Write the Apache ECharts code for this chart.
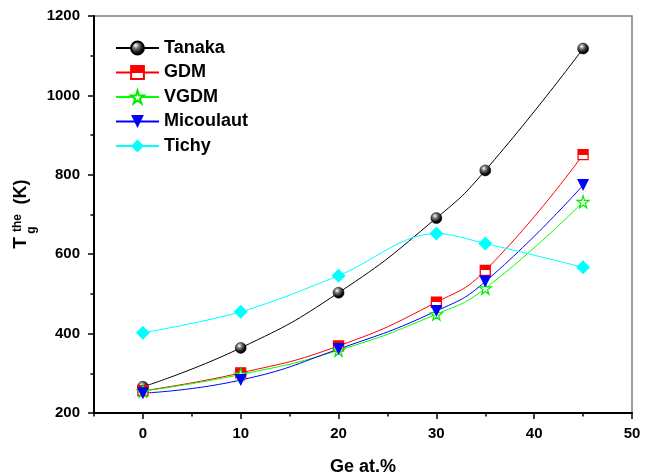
<!DOCTYPE html>
<html>
<head>
<meta charset="utf-8">
<script src="https://cdn.jsdelivr.net/npm/echarts@6/dist/echarts.min.js"></script>
<style>html,body{margin:0;padding:0;background:#fff;}#c{width:654px;height:475px;}</style>
</head>
<body>
<div id="c"></div>
<script>
const geContent = [0, 10, 20, 30, 35, 45];
const tanaka = [266, 364, 503, 691, 811, 1118];
const gdm = [256, 301, 369, 479, 559, 851];
const vgdm = [255, 297, 358, 449, 514, 732];
const micoulaut = [250, 283, 361, 457, 531, 774];
const tichy = [402, 455, 546, 652, 627, 567];

const FONT = '"Liberation Sans", Arial, sans-serif';
const chart = echarts.init(document.getElementById('c'), null, {renderer: 'canvas'});
const pairs = arr => geContent.map((x, i) => [x, arr[i]]);
const starPath = 'path://M50,0 L61,35 L98,35 L68,57 L79,91 L50,70 L21,91 L32,57 L2,35 L39,35 Z';
const L = 94, R = 22, T = 16, B = 62;
// second grid starts at x = 0 so that major ticks land on multiples of 10
const plotW = 654 - L - R;
const leftAtZero = L + plotW * 5 / 55;

const labelStyle = {fontFamily: FONT, fontWeight: 'bold', fontSize: 15, color: '#000'};

const option = {
  animation: false,
  backgroundColor: '#fff',
  grid: [
    {left: L, right: R, top: T, bottom: B, outerBoundsMode: 'none', containLabel: false,
      show: true, borderColor: '#7f7f7f', borderWidth: 1.5, backgroundColor: 'transparent'},
    {left: leftAtZero, right: R, top: T, bottom: B, outerBoundsMode: 'none', containLabel: false, show: false}
  ],
  legend: {
    orient: 'vertical',
    left: 115,
    top: 38,
    padding: 0,
    itemWidth: 43,
    itemHeight: 16,
    itemGap: 4.5,
    textStyle: {fontFamily: FONT, fontWeight: 'bold', fontSize: 18, color: '#000', lineHeight: 20},
    data: ['Tanaka', 'GDM', 'VGDM', 'Micoulaut', 'Tichy']
  },
  xAxis: [{
    type: 'value', gridIndex: 0, min: -5, max: 50, interval: 5,
    name: 'Ge at.%', nameLocation: 'middle', nameGap: 45,
    nameTextStyle: {fontFamily: FONT, fontWeight: 'bold', fontSize: 18, color: '#000'},
    axisLine: {show: true, onZero: false, lineStyle: {color: '#000', width: 2}},
    axisTick: {show: true, inside: false, length: 3.5, lineStyle: {color: '#000', width: 1.5}},
    axisLabel: {show: false},
    splitLine: {show: false}
  }, {
    type: 'value', gridIndex: 1, min: 0, max: 50, interval: 10,
    axisLine: {show: false, onZero: false},
    axisTick: {show: true, inside: false, length: 6, lineStyle: {color: '#000', width: 1.5}},
    axisLabel: Object.assign({show: true, margin: 13}, labelStyle),
    splitLine: {show: false}
  }],
  yAxis: [{
    type: 'value', gridIndex: 0, min: 200, max: 1200, interval: 200,
    axisLine: {show: true, onZero: false, lineStyle: {color: '#000', width: 2}},
    axisTick: {show: true, inside: false, length: 6, lineStyle: {color: '#000', width: 1.5}},
    minorTick: {show: true, splitNumber: 2, length: 3.5, lineStyle: {color: '#000', width: 1.5}},
    axisLabel: Object.assign({show: true, margin: 14, formatter: v => String(v)}, labelStyle),
    splitLine: {show: false}
  }, {
    type: 'value', gridIndex: 1, min: 200, max: 1200, show: false
  }],
  graphic: [
    {type: 'text', x: 21, y: 243, rotation: Math.PI / 2,
      style: {text: 'T', font: 'bold 19px ' + FONT, fill: '#000', textAlign: 'center', textVerticalAlign: 'middle'}},
    {type: 'text', x: 18, y: 223, rotation: Math.PI / 2,
      style: {text: 'the', font: 'bold 12px ' + FONT, fill: '#000', textAlign: 'center', textVerticalAlign: 'middle'}},
    {type: 'text', x: 32, y: 230, rotation: Math.PI / 2,
      style: {text: 'g', font: 'bold 12px ' + FONT, fill: '#000', textAlign: 'center', textVerticalAlign: 'middle'}},
    {type: 'text', x: 21, y: 192, rotation: Math.PI / 2,
      style: {text: '(K)', font: 'bold 18px ' + FONT, fill: '#000', textAlign: 'center', textVerticalAlign: 'middle'}}
  ],
  series: [
    {
      name: 'Tanaka', type: 'line', smooth: true, data: pairs(tanaka),
      symbol: 'circle', symbolSize: 11,
      lineStyle: {color: '#000', width: 1},
      itemStyle: {color: {type: 'radial', x: 0.38, y: 0.32, r: 0.7, colorStops: [
        {offset: 0, color: '#ffffff'}, {offset: 0.35, color: '#6a6a6a'}, {offset: 0.8, color: '#000'}, {offset: 1, color: '#000'}]},
        borderColor: '#000', borderWidth: 0.5}
    },
    {
      name: 'GDM', type: 'line', smooth: true, data: pairs(gdm),
      symbol: 'rect', symbolSize: 10,
      lineStyle: {color: '#ff0000', width: 1},
      itemStyle: {color: {type: 'linear', x: 0, y: 0, x2: 0, y2: 1, colorStops: [
        {offset: 0, color: '#ff0000'}, {offset: 0.5, color: '#ff0000'}, {offset: 0.5, color: '#ffffff'}, {offset: 1, color: '#ffffff'}]},
        borderColor: '#ff0000', borderWidth: 1.3}
    },
    {
      name: 'VGDM', type: 'line', smooth: true, data: pairs(vgdm),
      symbol: starPath, symbolSize: 12,
      lineStyle: {color: '#00ff00', width: 1},
      itemStyle: {color: '#ffffff', borderColor: '#00ee00', borderWidth: 1.2}
    },
    {
      name: 'Micoulaut', type: 'line', smooth: true, data: pairs(micoulaut),
      symbol: 'triangle', symbolRotate: 180, symbolSize: 12,
      lineStyle: {color: '#0000ff', width: 1},
      itemStyle: {color: '#0000ff'}
    },
    {
      name: 'Tichy', type: 'line', smooth: 0.35, data: pairs(tichy),
      symbol: 'diamond', symbolSize: 14,
      lineStyle: {color: '#00ffff', width: 1},
      itemStyle: {color: '#00ffff'}
    }
  ]
};
chart.setOption(option);
</script>
</body>
</html>
